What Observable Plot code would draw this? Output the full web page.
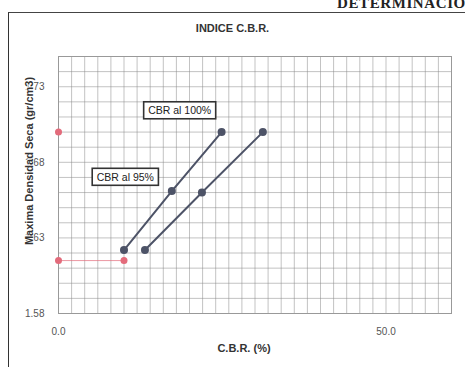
<!DOCTYPE html>
<html><head><meta charset="utf-8">
<script src="https://cdn.jsdelivr.net/npm/d3@7"></script>
<script src="https://cdn.jsdelivr.net/npm/@observablehq/plot@0.6"></script>
<style>
body{margin:0;background:#fff;}
#wrap{position:relative;width:465px;height:367px;overflow:hidden;font-family:"Liberation Sans",Arial,sans-serif;background:#fff;}
#head{position:absolute;left:337px;top:-5px;font-family:"Liberation Serif",serif;font-weight:bold;font-size:15px;letter-spacing:0.6px;white-space:nowrap;color:#222;}
#frameL{position:absolute;left:8px;top:12px;width:470px;height:400px;border-left:1.5px solid #333;border-top:1.5px solid #444;}
#title{position:absolute;left:0;top:22px;width:465px;text-align:center;font-weight:bold;font-size:11px;color:#333;}
#chart{position:absolute;left:0;top:0;}
</style></head>
<body>
<div id="wrap">
  <div id="frameL"></div>
  <div id="head">DETERMINACIÓN</div>
  <div id="title">INDICE C.B.R.</div>
  <div id="chart"></div>
</div>
<script>
// Data
const cbr100X = [10.0, 17.3, 24.9];
const cbr100Y = [1.622, 1.661, 1.700];
const cbr95X = [13.2, 21.9, 31.2];
const cbr95Y = [1.622, 1.660, 1.700];
const refX = [0, 0, 10];
const refY = [1.700, 1.615, 1.615];
const refLineX = [0, 10];
const refLineY = [1.615, 1.615];
const labelText = ["CBR al 100%", "CBR al 95%"];
const labelX = [18.5, 10.2];
const labelY = [1.714, 1.670];
const xTicks = [0, 50];
const yTicks = [1.58, 1.63, 1.68, 1.73];
const xLabel = "C.B.R. (%)";
const yLabel = "Maxima Densidad Seca (gr/cm3)";

const xGrid = d3.range(0, 61, 2);
const yGrid = d3.range(0, 18).map(i => +(1.58 + i * 0.01).toFixed(2));

const s100 = cbr100X.map((x, i) => ({x, y: cbr100Y[i]}));
const s95 = cbr95X.map((x, i) => ({x, y: cbr95Y[i]}));
const ref = refX.map((x, i) => ({x, y: refY[i]}));
const refLine = refLineX.map((x, i) => ({x, y: refLineY[i]}));
const labels = labelText.map((t, i) => ({t, x: labelX[i], y: labelY[i]}));

const lineColor = "#4d5367";
const redColor = "#e36b7b";

const svg = Plot.plot({
  width: 465, height: 367,
  marginLeft: 58, marginRight: 14, marginTop: 56, marginBottom: 54,
  x: {domain: [0, 60]},
  y: {domain: [1.58, 1.75]},
  style: {fontFamily: "'Liberation Sans', Arial, sans-serif", fontSize: "10px", color: "#555", background: "transparent"},
  marks: [
    Plot.gridX(xGrid, {stroke: "#888", strokeOpacity: 0.5}),
    Plot.gridY(yGrid, {stroke: "#888", strokeOpacity: 0.5}),
    Plot.frame({stroke: "#999"}),
    Plot.axisX(xTicks, {tickSize: 0, tickPadding: 14, tickFormat: d => d.toFixed(1), label: null, fill: "#555"}),
    Plot.axisY(yTicks, {tickSize: 0, tickPadding: 14, tickFormat: d => d.toFixed(2), label: null, fill: "#555"}),
    Plot.line(refLine, {x: "x", y: "y", stroke: redColor, strokeWidth: 1, strokeOpacity: 0.7}),
    Plot.dot(ref, {x: "x", y: "y", r: 3.5, fill: redColor, stroke: "none"}),
    Plot.line(s100, {x: "x", y: "y", stroke: lineColor, strokeWidth: 2}),
    Plot.line(s95, {x: "x", y: "y", stroke: lineColor, strokeWidth: 2}),
    Plot.dot(s100, {x: "x", y: "y", r: 4, fill: lineColor, stroke: "none"}),
    Plot.dot(s95, {x: "x", y: "y", r: 4, fill: lineColor, stroke: "none"}),
    Plot.text(labels, {x: "x", y: "y", text: "t", fontSize: 10.5, fill: "#222", className: "boxlabel"}),
    Plot.text([yLabel], {text: d => d, frameAnchor: "left", textAnchor: "middle", dx: -29.5, dy: -24, rotate: -90, fontWeight: "bold", fontSize: 11, fill: "#333", stroke: "white", strokeWidth: 1.5, paintOrder: "stroke"}),
    Plot.text([xLabel], {text: d => d, frameAnchor: "bottom", dy: 38, dx: -11, fontWeight: "bold", fontSize: 11, fill: "#333"})
  ]
});
document.getElementById("chart").appendChild(svg);

// draw boxes behind annotation labels
svg.querySelectorAll("g.boxlabel text").forEach(t => {
  const b = t.getBBox();
  const r = document.createElementNS("http://www.w3.org/2000/svg", "rect");
  r.setAttribute("x", b.x - 4.5);
  r.setAttribute("y", b.y - 2.5);
  r.setAttribute("width", b.width + 9);
  r.setAttribute("height", b.height + 5);
  r.setAttribute("fill", "white");
  r.setAttribute("stroke", "#333");
  r.setAttribute("stroke-width", 1.6);
  if (t.getAttribute("transform")) r.setAttribute("transform", t.getAttribute("transform"));
  t.parentNode.insertBefore(r, t);
});
</script>
</body></html>
